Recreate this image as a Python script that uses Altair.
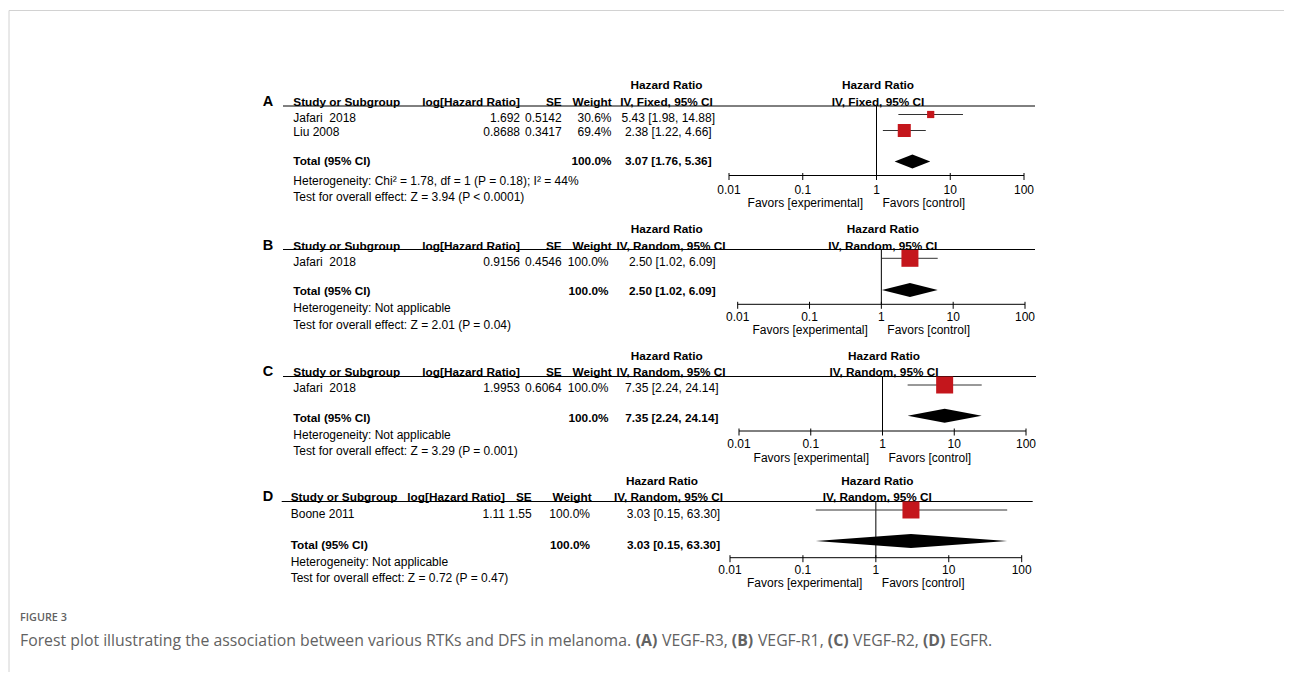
import altair as alt
import pandas as pd

# ---------------- data ----------------
panel_letters = ["A", "B", "C", "D"]
methods = ["IV, Fixed, 95% CI", "IV, Random, 95% CI", "IV, Random, 95% CI", "IV, Random, 95% CI"]
study_names = [["Jafari\u00a0 2018", "Liu 2008"], ["Jafari\u00a0 2018"], ["Jafari\u00a0 2018"], ["Boone 2011"]]
log_hr = [[1.692, 0.8688], [0.9156], [1.9953], [1.11]]
se = [[0.5142, 0.3417], [0.4546], [0.6064], [1.55]]
weights = [[30.6, 69.4], [100.0], [100.0], [100.0]]
hr = [[5.43, 2.38], [2.50], [7.35], [3.03]]
hr_lo = [[1.98, 1.22], [1.02], [2.24], [0.15]]
hr_hi = [[14.88, 4.66], [6.09], [24.14], [63.30]]
total_hr = [3.07, 2.50, 7.35, 3.03]
total_lo = [1.76, 1.02, 2.24, 0.15]
total_hi = [5.36, 6.09, 24.14, 63.30]
heterogeneity = [
    "Heterogeneity: Chi\u00b2 = 1.78, df = 1 (P = 0.18); I\u00b2 = 44%",
    "Heterogeneity: Not applicable",
    "Heterogeneity: Not applicable",
    "Heterogeneity: Not applicable",
]
overall_effect = [
    "Test for overall effect: Z = 3.94 (P < 0.0001)",
    "Test for overall effect: Z = 2.01 (P = 0.04)",
    "Test for overall effect: Z = 3.29 (P = 0.001)",
    "Test for overall effect: Z = 0.72 (P = 0.47)",
]
axis_ticks = [0.01, 0.1, 1, 10, 100]
axis_tick_labels = ["0.01", "0.1", "1", "10", "100"]
col_headers = ["Study or Subgroup", "log[Hazard Ratio]", "SE", "Weight"]
effect_header = "Hazard Ratio"
total_label = "Total (95% CI)"
favors_left = "Favors [experimental]"
favors_right = "Favors [control]"
figure_label = "FIGURE 3"
caption_parts = [
    ("Forest plot illustrating the association between various RTKs and DFS in melanoma.", False),
    ("(A)", True), ("VEGF-R3,", False), ("(B)", True), ("VEGF-R1,", False),
    ("(C)", True), ("VEGF-R2,", False), ("(D)", True), ("EGFR.", False),
]

# ---------------- layout (page pixels) ----------------
LAYOUT = [
    dict(hr_y=84.5, head_y=101.5, line_y=106, rows=[117.5, 132], sq_y=[114.5, 130.5], total_y=160.5,
         dia_y=161.5, het_y=181, test_y=197, axis_y=175.5, tick_y=189.5, fav_y=202.5,
         study_x=293.3, loghr_x=520, se_x=561.7, wt_head_x=611.7, wt_x=611.5, hr_x=668.3,
         hrhead_x=666.5, method_x=666.5, f0=729, f1=1024, lx0=283, lx1=1035),
    dict(hr_y=229, head_y=245.5, line_y=249.5, rows=[261.5], sq_y=[258.3], total_y=290.5,
         dia_y=290, het_y=308.3, test_y=324.5, axis_y=304.3, tick_y=317, fav_y=330.3,
         study_x=293.3, loghr_x=520, se_x=561.7, wt_head_x=611.7, wt_x=608.5, hr_x=672.3,
         hrhead_x=666.7, method_x=671, f0=737.7, f1=1025, lx0=283, lx1=1035),
    dict(hr_y=355.5, head_y=371.5, line_y=376.5, rows=[388], sq_y=[385], total_y=418,
         dia_y=415.7, het_y=435, test_y=451, axis_y=431, tick_y=444.3, fav_y=457.7,
         study_x=293.3, loghr_x=520, se_x=561.7, wt_head_x=611.7, wt_x=608.5, hr_x=671.8,
         hrhead_x=666.7, method_x=671, f0=739, f1=1026, lx0=283, lx1=1036),
    dict(hr_y=481, head_y=497, line_y=501.5, rows=[513.5], sq_y=[510], total_y=545,
         dia_y=541, het_y=562, test_y=578, axis_y=557.7, tick_y=570, fav_y=583.3,
         study_x=290.7, loghr_x=505, se_x=531.7, wt_head_x=591.7, wt_x=590, hr_x=673.5,
         hrhead_x=662, method_x=668.5, f0=730, f1=1021.7, lx0=281.7, lx1=1032.7),
]

RED = "#c4161c"
FONT = "Liberation Sans"
CAP_FONT = "Open Sans"
CAP_COLOR = "#626262"
W, H = 1276, 664
XPX = alt.Scale(domain=[8, 8 + W], range=[0, W], nice=False, zero=False)
YPX = alt.Scale(domain=[8, 8 + H], range=[0, H], nice=False, zero=False)
REG, BLD = 12, 11.8
DIA_H = 7

layers = []

# ---- border ----
border = pd.DataFrame({"x": [9, 9], "x2": [1284, 9], "y": [10.5, 10.5], "y2": [10.5, 672]})
layers.append(alt.Chart(border).mark_rule(color="#d2d2d2", strokeWidth=1).encode(
    x=alt.X("x:Q", scale=XPX, axis=None), x2="x2:Q",
    y=alt.Y("y:Q", scale=YPX, axis=None), y2="y2:Q"))

# ---- table text ----
def fmt_ci(e, l, u):
    return f"{e:.2f} [{l:.2f}, {u:.2f}]"

recs = []
def add(text, x, y, align, weight, size):
    recs.append(dict(text=text, x=x, y=y, align=align, weight=weight, size=size))

underlines = []
for p, L in enumerate(LAYOUT):
    add(panel_letters[p], 262.7, L["head_y"], "left", "bold", 14.5)
    add(effect_header, L["hrhead_x"], L["hr_y"], "center", "bold", BLD)
    add(col_headers[0], L["study_x"], L["head_y"], "left", "bold", BLD)
    add(col_headers[1], L["loghr_x"], L["head_y"], "right", "bold", BLD)
    add(col_headers[2], L["se_x"], L["head_y"], "right", "bold", BLD)
    add(col_headers[3], L["wt_head_x"], L["head_y"], "right", "bold", BLD)
    add(methods[p], L["method_x"], L["head_y"], "center", "bold", BLD)
    for i, name in enumerate(study_names[p]):
        y = L["rows"][i]
        add(name, L["study_x"], y, "left", "normal", REG)
        add(str(log_hr[p][i]), L["loghr_x"], y, "right", "normal", REG)
        add(str(se[p][i]), L["se_x"], y, "right", "normal", REG)
        add(f"{weights[p][i]:.1f}%", L["wt_x"], y, "right", "normal", REG)
        add(fmt_ci(hr[p][i], hr_lo[p][i], hr_hi[p][i]), L["hr_x"], y, "center", "normal", REG)
    add(total_label, L["study_x"], L["total_y"], "left", "bold", BLD)
    add(f"{sum(weights[p]):.1f}%", L["wt_x"], L["total_y"], "right", "bold", BLD)
    add(fmt_ci(total_hr[p], total_lo[p], total_hi[p]), L["hr_x"], L["total_y"], "center", "bold", BLD)
    add(heterogeneity[p], L["study_x"], L["het_y"], "left", "normal", REG)
    add(overall_effect[p], L["study_x"], L["test_y"], "left", "normal", REG)
    underlines.append(dict(x=L["lx0"], x2=L["lx1"], y=L["line_y"]))

tdf = pd.DataFrame(recs)
for (align, weight, size), g in tdf.groupby(["align", "weight", "size"]):
    layers.append(alt.Chart(g[["x", "y", "text"]].reset_index(drop=True)).mark_text(
        align=align, baseline="middle", font=FONT, fontSize=float(size), fontWeight=weight, color="#000"
    ).encode(x=alt.X("x:Q", scale=XPX, axis=None), y=alt.Y("y:Q", scale=YPX, axis=None), text="text:N"))

layers.append(alt.Chart(pd.DataFrame(underlines)).mark_rule(color="#000", strokeWidth=1).encode(
    x=alt.X("x:Q", scale=XPX, axis=None), x2="x2:Q", y=alt.Y("y:Q", scale=YPX, axis=None)))

# ---- forest plots ----
for p, L in enumerate(LAYOUT):
    FX = alt.Scale(type="log", domain=[0.01, 100], range=[L["f0"] - 8, L["f1"] - 8], nice=False)
    Y = lambda f: alt.Y(f, scale=YPX, axis=None)
    X = lambda f: alt.X(f, scale=FX, axis=None)

    ref = pd.DataFrame({"v": [1], "y": [L["line_y"]], "y2": [L["axis_y"]]})
    layers.append(alt.Chart(ref).mark_rule(color="#000", strokeWidth=1).encode(x=X("v:Q"), y=Y("y:Q"), y2="y2:Q"))

    ci = pd.DataFrame({"lo": hr_lo[p], "hi": hr_hi[p], "y": L["sq_y"]})
    layers.append(alt.Chart(ci).mark_rule(color="#333", strokeWidth=1).encode(x=X("lo:Q"), x2="hi:Q", y=Y("y:Q")))

    sq = pd.DataFrame({"v": hr[p], "y": L["sq_y"], "w": weights[p]})
    layers.append(alt.Chart(sq).mark_square(color=RED, opacity=1, strokeWidth=0).encode(
        x=X("v:Q"), y=Y("y:Q"),
        size=alt.Size("w:Q", scale=alt.Scale(type="pow", exponent=1.45, domain=[0, 100], range=[0, 289]), legend=None)))

    dy = L["dia_y"]
    dia = pd.DataFrame({"v": [total_lo[p], total_hr[p], total_hi[p]],
                        "top": [dy, dy - DIA_H, dy], "bot": [dy, dy + DIA_H, dy]})
    layers.append(alt.Chart(dia).mark_area(color="#000", orient="vertical", interpolate="linear", opacity=1).encode(
        x=X("v:Q"), y=Y("top:Q"), y2="bot:Q"))

    ax = pd.DataFrame({"a": [axis_ticks[0]], "b": [axis_ticks[-1]], "y": [L["axis_y"]]})
    layers.append(alt.Chart(ax).mark_rule(color="#000", strokeWidth=1).encode(x=X("a:Q"), x2="b:Q", y=Y("y:Q")))

    tk = pd.DataFrame({"t": axis_ticks, "y": [L["axis_y"] - 2.5] * len(axis_ticks),
                       "y2": [L["axis_y"] + 4.5] * len(axis_ticks), "lab": axis_tick_labels,
                       "ly": [L["tick_y"]] * len(axis_ticks)})
    layers.append(alt.Chart(tk).mark_rule(color="#000", strokeWidth=1).encode(x=X("t:Q"), y=Y("y:Q"), y2="y2:Q"))
    layers.append(alt.Chart(tk).mark_text(font=FONT, fontSize=REG, align="center", baseline="middle", color="#000").encode(
        x=X("t:Q"), y=Y("ly:Q"), text="lab:N"))

    fav = pd.DataFrame({"v": [1], "y": [L["fav_y"]], "l": [favors_left], "r": [favors_right]})
    layers.append(alt.Chart(fav).mark_text(font=FONT, fontSize=REG, align="right", baseline="middle", dx=-13.5, color="#000").encode(
        x=X("v:Q"), y=Y("y:Q"), text="l:N"))
    layers.append(alt.Chart(fav).mark_text(font=FONT, fontSize=REG, align="left", baseline="middle", dx=6, color="#000").encode(
        x=X("v:Q"), y=Y("y:Q"), text="r:N"))

    hd = pd.DataFrame({"v": [1, 1], "y": [L["hr_y"], L["head_y"]], "t": [effect_header, methods[p]]})
    layers.append(alt.Chart(hd).mark_text(font=FONT, fontSize=BLD, fontWeight="bold", align="center", baseline="middle", dx=1.5, color="#000").encode(
        x=X("v:Q"), y=Y("y:Q"), text="t:N"))

# ---- caption ----
OS_REG = {' ': 532, '(': 604, ')': 604, ',': 502, '-': 659, '.': 545,
          'A': 1296, 'B': 1327, 'C': 1292, 'D': 1493, 'E': 1139, 'F': 1057, 'G': 1491, 'K': 1260,
          'M': 1849, 'R': 1266, 'S': 1124, 'T': 1126, 'V': 1241, 'I': 571,
          'a': 1139, 'b': 1255, 'c': 975, 'd': 1255, 'e': 1149, 'f': 694, 'g': 1122, 'h': 1257,
          'i': 518, 'k': 1075, 'l': 518, 'm': 1905, 'n': 1257, 'o': 1237, 'p': 1255, 'r': 836,
          's': 977, 't': 723, 'u': 1257, 'v': 1026, 'w': 1593, 'y': 1028}
OS_BLD = {'(': 694, ')': 694, 'A': 1479, 'B': 1458, 'C': 1356, 'D': 1565}
CAP_FS = 15.8
def tw(s, bold):
    tot = 0
    for ch in s:
        if bold and ch in OS_BLD:
            tot += OS_BLD[ch]
        elif ch.isdigit():
            tot += 1171
        else:
            tot += OS_REG.get(ch, 1150)
    return tot * CAP_FS / 2048

cx = 20.0
cap_recs = []
for txt, b in caption_parts:
    cap_recs.append(dict(text=txt, x=cx, y=641, bold=b))
    cx += tw(txt, b) + tw(" ", False)
cdf = pd.DataFrame(cap_recs)
for b, g in cdf.groupby("bold"):
    layers.append(alt.Chart(g[["x", "y", "text"]].reset_index(drop=True)).mark_text(
        align="left", baseline="middle", font=CAP_FONT, fontSize=CAP_FS,
        fontWeight="bold" if b else "normal", color=CAP_COLOR
    ).encode(x=alt.X("x:Q", scale=XPX, axis=None), y=alt.Y("y:Q", scale=YPX, axis=None), text="text:N"))

fl = pd.DataFrame({"x": [20], "y": [618], "text": [figure_label]})
layers.append(alt.Chart(fl).mark_text(align="left", baseline="middle", font=CAP_FONT, fontSize=10.8,
                                      fontWeight=600, color=CAP_COLOR).encode(
    x=alt.X("x:Q", scale=XPX, axis=None), y=alt.Y("y:Q", scale=YPX, axis=None), text="text:N"))

chart = alt.layer(*layers).resolve_scale(x="independent", size="independent").properties(
    width=W, height=H, padding=0, autosize=alt.AutoSizeParams(type="none"), background="white"
).configure_view(stroke=None)

chart.save("out.html", embed_options={"renderer": "svg", "actions": False})
